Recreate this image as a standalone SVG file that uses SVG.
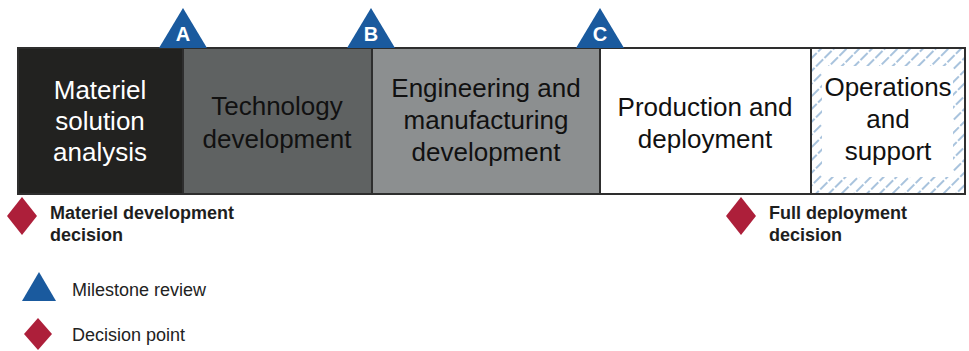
<svg xmlns="http://www.w3.org/2000/svg" width="969" height="351" viewBox="0 0 969 351">
<defs>
<pattern id="hatch" patternUnits="userSpaceOnUse" width="9" height="24" patternTransform="rotate(45)">
<line x1="3" y1="0" x2="3" y2="24" stroke="#6f9bc6" stroke-width="1.2" stroke-dasharray="10 2"/>
</pattern>
<style>
.ph{stroke:#2e2e2e;stroke-width:2}
.t{font-family:"Liberation Sans",Arial,sans-serif;font-size:26px;text-anchor:middle}
.lb{font-family:"Liberation Sans",Arial,sans-serif;font-size:18px;font-weight:bold;fill:#1e1e1e}
.lg{font-family:"Liberation Sans",Arial,sans-serif;font-size:18px;fill:#222}
.ms{fill:#1a5a9e}
.ml{font-family:"Liberation Sans",Arial,sans-serif;font-size:20px;font-weight:bold;fill:#fff;text-anchor:middle}
.dp{fill:#ad1f3a}
</style>
</defs>
<rect width="969" height="351" fill="#fff"/>
<g id="phase1"><rect class="ph" x="18" y="48" width="165" height="146" fill="#222220"/>
<text class="t" fill="#fff"><tspan x="100" y="99">Materiel</tspan><tspan x="100" y="130">solution</tspan><tspan x="100" y="161">analysis</tspan></text></g>
<g id="phase2"><rect class="ph" x="183" y="48" width="189" height="146" fill="#5f6262"/>
<text class="t" fill="#111"><tspan x="277" y="115">Technology</tspan><tspan x="277" y="148">development</tspan></text></g>
<g id="phase3"><rect class="ph" x="372" y="48" width="228" height="146" fill="#8c8f90"/>
<text class="t" fill="#111"><tspan x="486" y="97">Engineering and</tspan><tspan x="486" y="129">manufacturing</tspan><tspan x="486" y="161">development</tspan></text></g>
<g id="phase4"><rect class="ph" x="600" y="48" width="211" height="146" fill="#fff"/>
<text class="t" fill="#111"><tspan x="705" y="116">Production and</tspan><tspan x="705" y="148">deployment</tspan></text></g>
<g id="phase5"><rect class="ph" x="811" y="48" width="154" height="146" fill="#fff"/>
<rect x="812" y="49" width="152" height="144" fill="url(#hatch)"/>
<rect x="822" y="66" width="131" height="111" fill="#fff"/>
<text class="t" fill="#111"><tspan x="888" y="96">Operations</tspan><tspan x="888" y="128">and</tspan><tspan x="888" y="160">support</tspan></text></g>
<g id="milestoneA"><polygon class="ms" points="183,8 159,48 207,48"/><text class="ml" x="183" y="41">A</text></g>
<g id="milestoneB"><polygon class="ms" points="371,8 347,48 395,48"/><text class="ml" x="371" y="41">B</text></g>
<g id="milestoneC"><polygon class="ms" points="600,8 576,48 624,48"/><text class="ml" x="600" y="41">C</text></g>
<g id="decision1"><polygon class="dp" points="22,197 37,216 22,235 7,216"/>
<text class="lb"><tspan x="50" y="219">Materiel development</tspan><tspan x="50" y="241">decision</tspan></text></g>
<g id="decision2"><polygon class="dp" points="741,197 756,216 741,235 726,216"/>
<text class="lb"><tspan x="769" y="219">Full deployment</tspan><tspan x="769" y="241">decision</tspan></text></g>
<g id="legend">
<polygon class="ms" points="39,272 56,301 22,301"/>
<text class="lg" x="72" y="296">Milestone review</text>
<polygon class="dp" points="38,318 52,334 38,350 24,334"/>
<text class="lg" x="72" y="341">Decision point</text>
</g>
<g id="connectors"></g>
</svg>
